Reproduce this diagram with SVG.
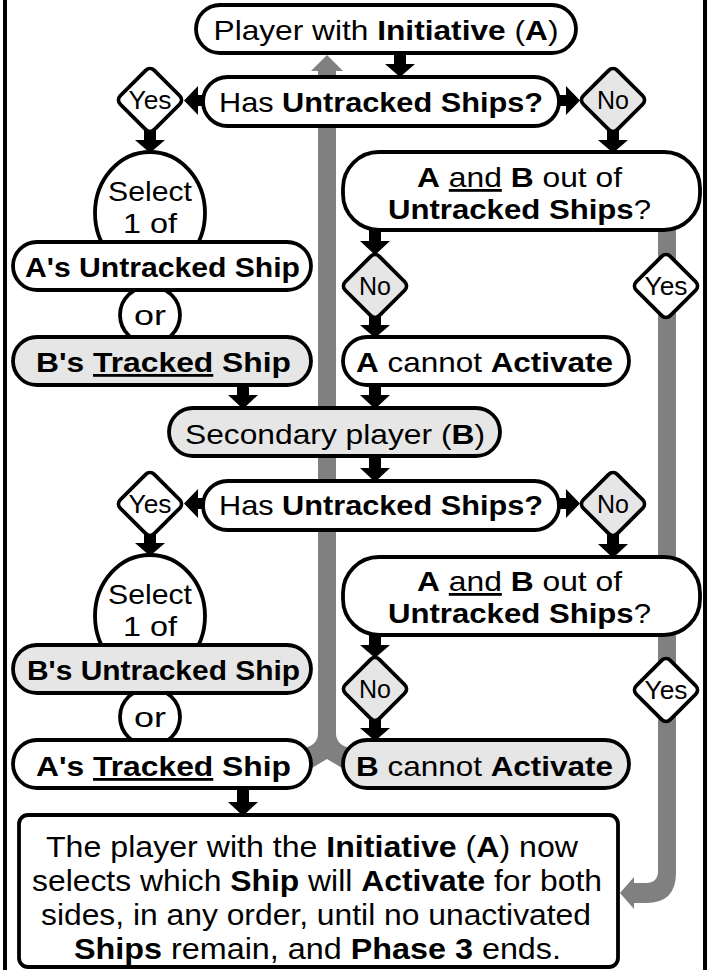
<svg xmlns="http://www.w3.org/2000/svg" width="707" height="970" viewBox="0 0 707 970">
<style>
text{font-family:"Liberation Sans",Arial,sans-serif;fill:#000;text-anchor:middle}
.b{font-weight:bold}
.t{font-size:28px}
.d{font-size:25px}
.f{font-size:30px}
.s{font-size:28px}
.w{fill:#fff;stroke:#000;stroke-width:3.8}
.g{fill:#e6e6e6;stroke:#000;stroke-width:3.8}
.gb{fill:#808080}
.ar{fill:#000}
</style>
<defs>
<rect id="dia" x="-24" y="-24" width="48" height="48" rx="6" transform="rotate(45)"/>
</defs>
<rect x="0" y="0" width="707" height="970" fill="#fff"/>
<rect x="5" y="-10" width="700" height="990" fill="none" stroke="#000" stroke-width="4"/>

<g id="connectors">
  <path class="gb" d="M327,55 L343,71 L336,71 L336,733 Q336,745 350,748 L350,768 L342,768 L327,759 L312,768 L304,768 L304,748 Q318,745 318,733 L318,71 L311,71 Z"/>
  <path class="gb" d="M658,228 L676,228 L676,873 Q676,903 646,903 L634,903 L634,909 L620,893 L634,877 L634,883 L646,883 Q658,883 658,871 Z"/>
  <path class="ar" d="M394,52 L406,52 L406,64 L415,64 L400,77 L385,64 L394,64 Z"/>
  <path class="ar" d="M204,95 L198,95 L198,86 L184,100.5 L198,115 L198,106 L204,106 Z"/>
  <path class="ar" d="M558,95 L566,95 L566,86 L580,100.5 L566,115 L566,106 L558,106 Z"/>
  <path class="ar" d="M144,130 L156,130 L156,140 L165,140 L150,153 L135,140 L144,140 Z"/>
  <path class="ar" d="M607,130 L619,130 L619,140 L628,140 L613,153 L598,140 L607,140 Z"/>
  <path class="ar" d="M369,229 L381,229 L381,241 L390,241 L375,255 L360,241 L369,241 Z"/>
  <path class="ar" d="M369,316 L381,316 L381,325 L390,325 L375,338 L360,325 L369,325 Z"/>
  <path class="ar" d="M237,384 L249,384 L249,395 L258,395 L243,409 L228,395 L237,395 Z"/>
  <path class="ar" d="M369,384 L381,384 L381,395 L390,395 L375,409 L360,395 L369,395 Z"/>
  <path class="ar" d="M369,455 L381,455 L381,468 L390,468 L375,482 L360,468 L369,468 Z"/>
  <path class="ar" d="M204,498 L198,498 L198,489 L184,503.5 L198,518 L198,509 L204,509 Z"/>
  <path class="ar" d="M558,498 L566,498 L566,489 L580,503.5 L566,518 L566,509 L558,509 Z"/>
  <path class="ar" d="M144,534 L156,534 L156,543 L165,543 L150,556 L135,543 L144,543 Z"/>
  <path class="ar" d="M607,534 L619,534 L619,544 L628,544 L613,558 L598,544 L607,544 Z"/>
  <path class="ar" d="M369,634 L381,634 L381,645 L390,645 L375,658 L360,645 L369,645 Z"/>
  <path class="ar" d="M369,719 L381,719 L381,728 L390,728 L375,741 L360,728 L369,728 Z"/>
  <path class="ar" d="M237,787 L249,787 L249,802 L258,802 L243,816 L228,802 L237,802 Z"/>
</g>

<g id="initiative">
  <rect class="w" x="196" y="5" width="380" height="48" rx="24"/>
  <text class="t" x="386" y="40" textLength="345" lengthAdjust="spacingAndGlyphs">Player with <tspan class="b">Initiative</tspan> (<tspan class="b">A</tspan>)</text>
</g>
<g id="hasUntracked1">
  <rect class="w" x="203" y="77" width="356" height="49" rx="24.5"/>
  <text class="t" x="381" y="112" textLength="324" lengthAdjust="spacingAndGlyphs">Has <tspan class="b">Untracked Ships?</tspan></text>
</g>
<g id="yes1">
  <use href="#dia" class="w" transform="translate(150,100)"/>
  <text class="d" x="150" y="109" textLength="43" lengthAdjust="spacingAndGlyphs">Yes</text>
</g>
<g id="no1">
  <use href="#dia" class="g" transform="translate(613,100)"/>
  <text class="d" x="613" y="109" textLength="32" lengthAdjust="spacingAndGlyphs">No</text>
</g>
<g id="select1">
  <ellipse class="w" cx="150" cy="213" rx="55" ry="61"/>
  <text class="s" x="150" y="201" textLength="84" lengthAdjust="spacingAndGlyphs">Select</text>
  <text class="s" x="150" y="233" textLength="54" lengthAdjust="spacingAndGlyphs">1 of</text>
</g>
<g id="or1">
  <ellipse class="w" cx="150" cy="315" rx="30" ry="29"/>
  <text class="s" x="150" y="325" textLength="32" lengthAdjust="spacingAndGlyphs">or</text>
</g>
<g id="aUntracked">
  <rect class="w" x="13" y="242" width="298" height="48" rx="24"/>
  <text class="t b" x="162.5" y="277" textLength="275" lengthAdjust="spacingAndGlyphs">A's Untracked Ship</text>
</g>
<g id="bTracked">
  <rect class="g" x="13" y="337" width="298" height="48" rx="24"/>
  <text class="t b" x="163.5" y="372" textLength="255" lengthAdjust="spacingAndGlyphs">B's <tspan text-decoration="underline">Tracked</tspan> Ship</text>
</g>
<g id="outOf1">
  <rect class="w" x="343" y="152" width="357" height="78" rx="36"/>
  <text class="t" x="519.5" y="187" textLength="205" lengthAdjust="spacingAndGlyphs"><tspan class="b">A</tspan> <tspan text-decoration="underline">and</tspan> <tspan class="b">B</tspan> out of</text>
  <text class="t" x="519.5" y="219" textLength="263" lengthAdjust="spacingAndGlyphs"><tspan class="b">Untracked Ships</tspan>?</text>
</g>
<g id="noA">
  <use href="#dia" class="g" transform="translate(375,286)"/>
  <text class="d" x="375" y="295" textLength="32" lengthAdjust="spacingAndGlyphs">No</text>
</g>
<g id="yesA">
  <use href="#dia" class="w" transform="translate(666,286)"/>
  <text class="d" x="666" y="295" textLength="43" lengthAdjust="spacingAndGlyphs">Yes</text>
</g>
<g id="aCannot">
  <rect class="w" x="343" y="337" width="286" height="48" rx="24"/>
  <text class="t" x="484.5" y="372" textLength="257" lengthAdjust="spacingAndGlyphs"><tspan class="b">A</tspan> cannot <tspan class="b">Activate</tspan></text>
</g>
<g id="secondary">
  <rect class="g" x="169" y="408" width="331" height="48" rx="24"/>
  <text class="t" x="335" y="444" textLength="300" lengthAdjust="spacingAndGlyphs">Secondary player (<tspan class="b">B</tspan>)</text>
</g>
<g id="hasUntracked2">
  <rect class="w" x="203" y="481" width="356" height="49" rx="24.5"/>
  <text class="t" x="381" y="515" textLength="324" lengthAdjust="spacingAndGlyphs">Has <tspan class="b">Untracked Ships?</tspan></text>
</g>
<g id="yes2">
  <use href="#dia" class="w" transform="translate(150,504)"/>
  <text class="d" x="150" y="513" textLength="43" lengthAdjust="spacingAndGlyphs">Yes</text>
</g>
<g id="no2">
  <use href="#dia" class="g" transform="translate(613,504)"/>
  <text class="d" x="613" y="513" textLength="32" lengthAdjust="spacingAndGlyphs">No</text>
</g>
<g id="select2">
  <ellipse class="w" cx="150" cy="616" rx="55" ry="61"/>
  <text class="s" x="150" y="604" textLength="84" lengthAdjust="spacingAndGlyphs">Select</text>
  <text class="s" x="150" y="636" textLength="54" lengthAdjust="spacingAndGlyphs">1 of</text>
</g>
<g id="or2">
  <ellipse class="w" cx="150" cy="717" rx="30" ry="29"/>
  <text class="s" x="150" y="727" textLength="32" lengthAdjust="spacingAndGlyphs">or</text>
</g>
<g id="bUntracked">
  <rect class="g" x="13" y="645" width="298" height="48" rx="24"/>
  <text class="t b" x="163.5" y="680" textLength="273" lengthAdjust="spacingAndGlyphs">B's Untracked Ship</text>
</g>
<g id="aTracked">
  <rect class="w" x="13" y="740" width="298" height="48" rx="24"/>
  <text class="t b" x="163.5" y="776" textLength="255" lengthAdjust="spacingAndGlyphs">A's <tspan text-decoration="underline">Tracked</tspan> Ship</text>
</g>
<g id="outOf2">
  <rect class="w" x="343" y="557" width="357" height="78" rx="36"/>
  <text class="t" x="519.5" y="591" textLength="205" lengthAdjust="spacingAndGlyphs"><tspan class="b">A</tspan> <tspan text-decoration="underline">and</tspan> <tspan class="b">B</tspan> out of</text>
  <text class="t" x="519.5" y="623" textLength="263" lengthAdjust="spacingAndGlyphs"><tspan class="b">Untracked Ships</tspan>?</text>
</g>
<g id="noB">
  <use href="#dia" class="g" transform="translate(375,689)"/>
  <text class="d" x="375" y="698" textLength="32" lengthAdjust="spacingAndGlyphs">No</text>
</g>
<g id="yesB">
  <use href="#dia" class="w" transform="translate(666,690)"/>
  <text class="d" x="666" y="699" textLength="43" lengthAdjust="spacingAndGlyphs">Yes</text>
</g>
<g id="bCannot">
  <rect class="g" x="343" y="740" width="286" height="48" rx="24"/>
  <text class="t" x="484.5" y="776" textLength="257" lengthAdjust="spacingAndGlyphs"><tspan class="b">B</tspan> cannot <tspan class="b">Activate</tspan></text>
</g>
<g id="final">
  <rect class="w" x="19" y="815" width="599" height="152" rx="9"/>
  <text class="f" x="312" y="857" textLength="532" lengthAdjust="spacingAndGlyphs">The player with the <tspan class="b">Initiative</tspan> (<tspan class="b">A</tspan>) now</text>
  <text class="f" x="317" y="891" textLength="570" lengthAdjust="spacingAndGlyphs">selects which <tspan class="b">Ship</tspan> will <tspan class="b">Activate</tspan> for both</text>
  <text class="f" x="316" y="925" textLength="550" lengthAdjust="spacingAndGlyphs">sides, in any order, until no unactivated</text>
  <text class="f" x="317.5" y="959" textLength="487" lengthAdjust="spacingAndGlyphs"><tspan class="b">Ships</tspan> remain, and <tspan class="b">Phase 3</tspan> ends.</text>
</g>
</svg>
